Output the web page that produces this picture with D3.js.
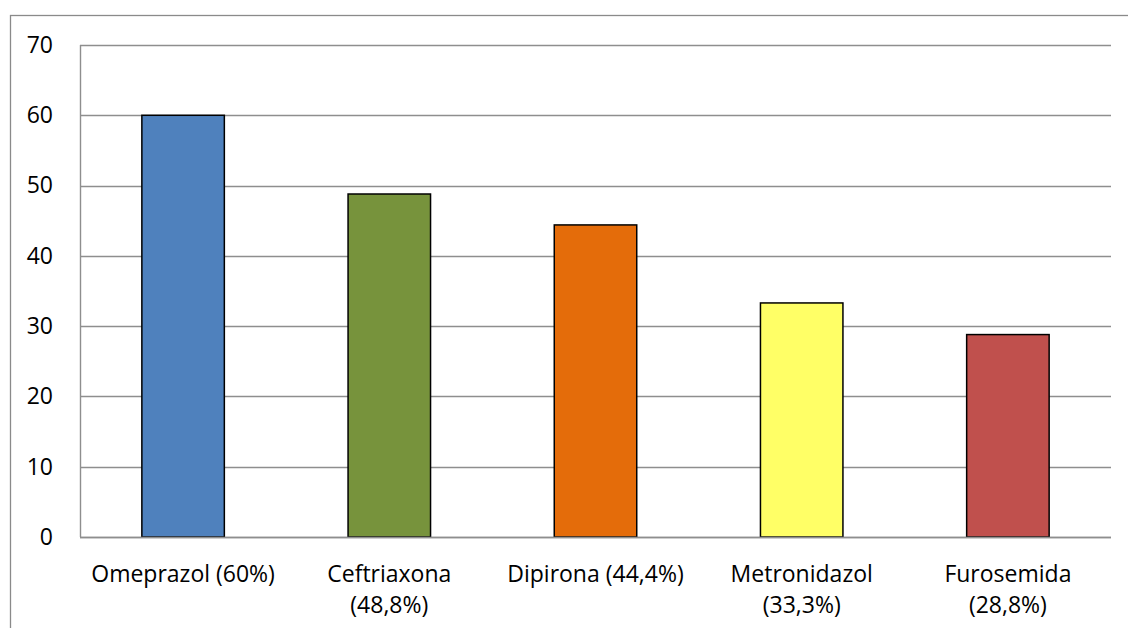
<!DOCTYPE html>
<html>
<head>
<meta charset="utf-8">
<script src="https://cdn.jsdelivr.net/npm/d3@7"></script>
<style>
  html, body { margin: 0; padding: 0; background: #fff; }
  svg { display: block; }
  text { font-family: "Open Sans", Lato, sans-serif; fill: #000; }
</style>
</head>
<body>
<svg id="chart" width="1128" height="628"></svg>
<script>
// Most prescribed drugs (%)
const categories = ["Omeprazol (60%)", "Ceftriaxona (48,8%)", "Dipirona (44,4%)", "Metronidazol (33,3%)", "Furosemida (28,8%)"];
const values = [60, 48.8, 44.4, 33.3, 28.8];
const colors = ["#4F81BD", "#77933C", "#E46C0A", "#FFFF66", "#C0504D"];
const yTicks = [0, 10, 20, 30, 40, 50, 60, 70];

const svg = d3.select("#chart");
const plot = { left: 80, right: 1111, top: 45, bottom: 537 };
const fontSize = "23px";

// outer chart frame
svg.append("rect")
  .attr("x", 10.5).attr("y", 15.5)
  .attr("width", 1300).attr("height", 800)
  .attr("fill", "none").attr("stroke", "#8a8a8a").attr("stroke-width", 1.3);

const x = d3.scaleBand()
  .domain(categories)
  .range([plot.left, plot.right])
  .paddingInner(0.6)
  .paddingOuter(0.3);

const y = d3.scaleLinear().domain([0, 70]).range([plot.bottom, plot.top]);

// gridlines
svg.append("g")
  .selectAll("line")
  .data(yTicks)
  .join("line")
  .attr("x1", plot.left).attr("x2", plot.right)
  .attr("y1", d => Math.round(y(d)) + 0.5).attr("y2", d => Math.round(y(d)) + 0.5)
  .attr("stroke", "#8e8e8e").attr("stroke-width", 1.4);

// vertical axis line
svg.append("line")
  .attr("x1", plot.left + 0.5).attr("x2", plot.left + 0.5)
  .attr("y1", y(70)).attr("y2", y(0))
  .attr("stroke", "#8e8e8e").attr("stroke-width", 1.4);

// y axis labels
const yAxis = d3.axisLeft(y).tickValues(yTicks).tickSize(0).tickPadding(27);
const gy = svg.append("g").attr("transform", `translate(${plot.left},0)`).call(yAxis);
gy.select(".domain").remove();
gy.selectAll("text")
  .style("font-family", "'Open Sans', Lato, sans-serif")
  .style("font-size", fontSize)
  .attr("fill", "#000");

// bars
svg.append("g")
  .selectAll("rect")
  .data(values)
  .join("rect")
  .attr("x", (d, i) => x(categories[i]))
  .attr("width", x.bandwidth())
  .attr("y", d => y(d))
  .attr("height", d => y(0) - y(d))
  .attr("fill", (d, i) => colors[i])
  .attr("stroke", "#000")
  .attr("stroke-width", 1.5);

// bottom axis line drawn over the bars
svg.append("line")
  .attr("x1", plot.left).attr("x2", plot.right)
  .attr("y1", Math.round(y(0)) + 0.5).attr("y2", Math.round(y(0)) + 0.5)
  .attr("stroke", "#8e8e8e").attr("stroke-width", 1.4);

// category labels, long ones wrapped before the percentage
const labels = svg.append("g");
categories.forEach(c => {
  const lines = c.length > 16 ? [c.slice(0, c.indexOf(" (")), c.slice(c.indexOf(" (") + 1)] : [c];
  const cx = x(c) + x.bandwidth() / 2;
  const t = labels.append("text")
    .attr("text-anchor", "middle")
    .style("font-size", fontSize)
    .attr("x", cx)
    .attr("y", 582);
  lines.forEach((ln, k) => {
    t.append("tspan")
      .attr("x", cx)
      .attr("dy", k === 0 ? 0 : 31)
      .text(ln);
  });
});
</script>
</body>
</html>
